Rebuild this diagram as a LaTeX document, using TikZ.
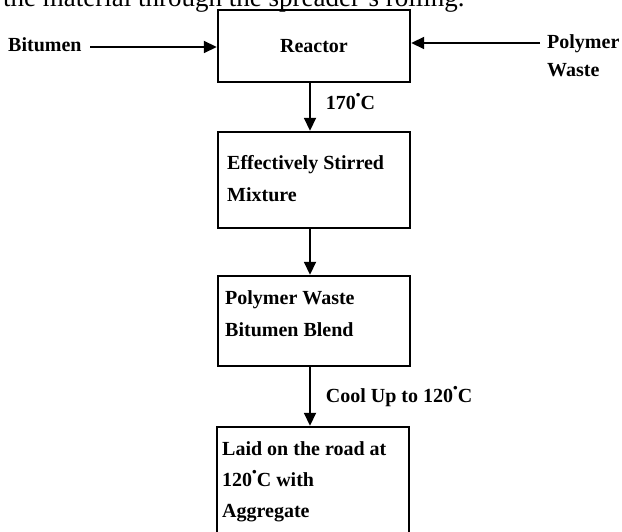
\documentclass[tikz,border=0pt]{standalone}
\usepackage{fontspec}
\setmainfont{Liberation Serif}
\usetikzlibrary{arrows.meta}
\newcommand{\degr}{\raisebox{0.6em}{\scalebox{0.45}{$\bullet$}}}

\begin{document}
\begin{tikzpicture}[x=1pt, y=-1pt,
    box/.style={draw, line width=2.4pt, minimum width=192pt},
    txt/.style={inner sep=0pt, align=flush left, font=\fontsize{20}{32}\selectfont\bfseries},
    flow/.style={line width=1.8pt, -{Triangle[length=13pt, width=12pt]}},
    lbl/.style={inner sep=0pt, font=\fontsize{20}{28}\selectfont\bfseries}]
    \useasboundingbox (0,0) rectangle (622,532);
    \clip (0,0) rectangle (622,532);

    \node[anchor=base west, inner sep=0pt, font=\fontsize{27}{27}\selectfont] (caption) at (3,7) {the material through the spreader's rolling.};

    \node[box, minimum height=72pt, font=\fontsize{20}{32}\selectfont\bfseries] (reactor) at (314,46) {Reactor};
    \node[box, minimum height=96pt] (stirred) at (314,180) {};
    \node[box, minimum height=90pt] (blend) at (314,321) {};
    \node[box, minimum height=126pt] (road) at (313,490) {};

    \node[txt, anchor=north west] (stirtext) at (227,155) {Effectively Stirred\\Mixture};
    \node[txt, anchor=north west] (blendtext) at (225,290) {Polymer Waste\\Bitumen Blend};
    \node[txt, anchor=north west, font=\fontsize{20}{31}\selectfont\bfseries] (roadtext) at (222,441) {Laid on the road at\\120\degr C with\\Aggregate};

    \node[lbl, anchor=west] (bitumen) at (8,45) {Bitumen};
    \node[lbl, anchor=north west, align=left] (polymer) at (547,34) {Polymer\\Waste};
    \coordinate (bt) at (90,47);
    \coordinate (pw) at (540,43);

    \draw[flow] (bt) -- (bt -| reactor.west);
    \draw[flow] (pw) -- (pw -| reactor.east);
    \draw[flow] ([xshift=-4pt]reactor.south) -- node[lbl, anchor=west, xshift=15pt, yshift=5pt] (hot) {170\degr C} ([xshift=-4pt]stirred.north);
    \draw[flow] ([xshift=-4pt]stirred.south) -- ([xshift=-4pt]blend.north);
    \draw[flow] ([xshift=-4pt]blend.south) -- node[lbl, anchor=west, xshift=15pt] (cool) {Cool Up to 120\degr C} ([xshift=-3pt]road.north);
\end{tikzpicture}
\end{document}
